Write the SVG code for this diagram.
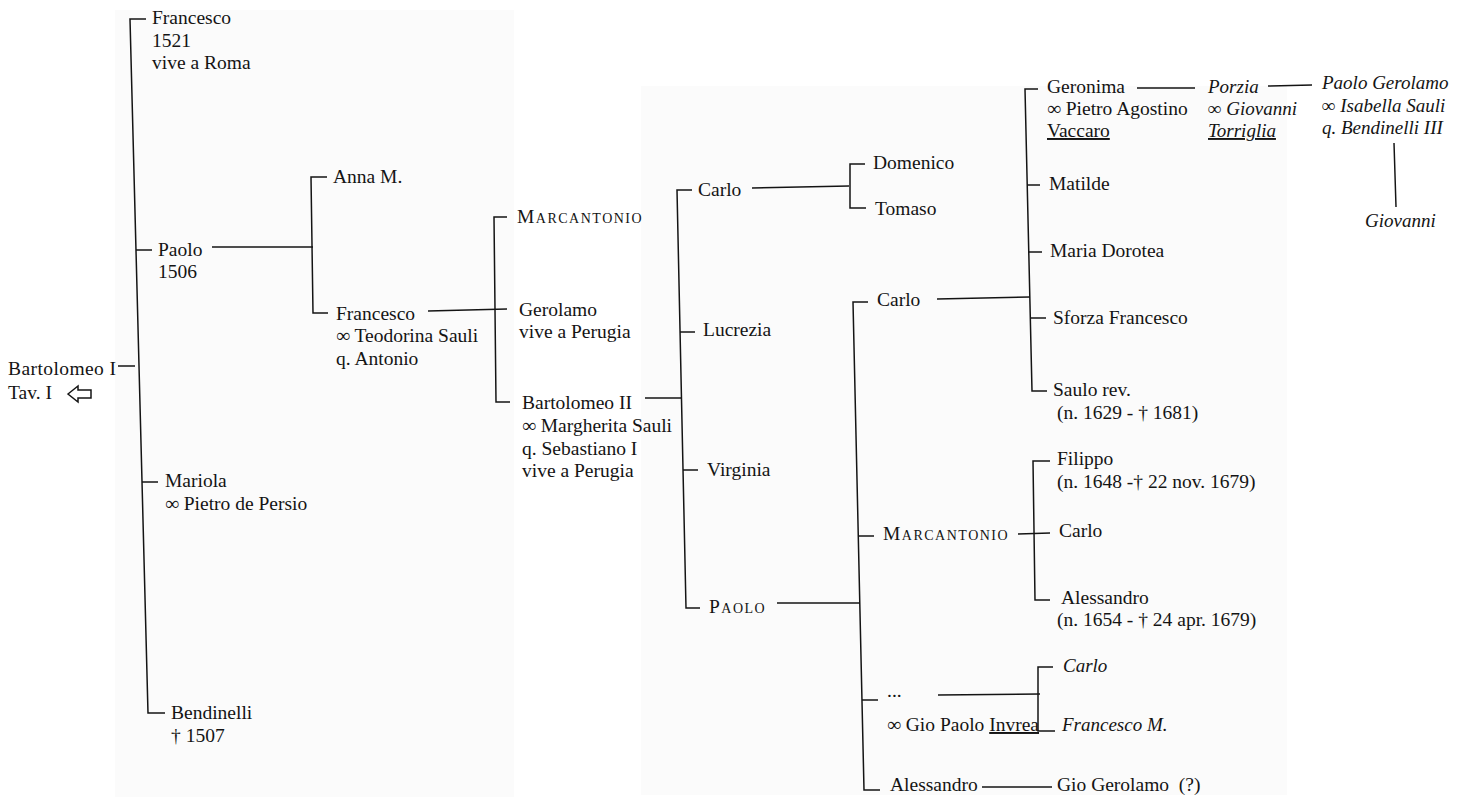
<svg xmlns="http://www.w3.org/2000/svg" width="1463" height="797" viewBox="0 0 1463 797">
<style>
text { font-family: "Liberation Serif", "Times New Roman", serif; font-size: 19.5px; fill: #141414; }
.i { font-style: italic; font-size: 19px; }
.sc { font-variant: small-caps; letter-spacing: 1.5px; }
.u { text-decoration: underline; }
#connectors path, #arrow { stroke: #141414; stroke-width: 1.5; fill: none; stroke-linejoin: miter; }
.panel { fill: #fbfbfb; }
</style>
<rect width="1463" height="797" fill="#ffffff"/>
<rect class="panel" x="115" y="10" width="399" height="787"/>
<rect class="panel" x="641" y="86" width="646" height="709"/>

<g id="connectors">
  <path d="M118,366 H135"/>
  <path d="M146,19 H130 L148,713 H165"/>
  <path d="M136,250 H152"/>
  <path d="M142,482 H158"/>
  <path d="M212,247 H313"/>
  <path d="M327,177 H311 L313,313 H328"/>
  <path d="M428,311 L507,309"/>
  <path d="M507,217 H494 L496,402 H510"/>
  <path d="M645,398 H682"/>
  <path d="M692,190 H677 L686,608 H700"/>
  <path d="M680,332 H695"/>
  <path d="M683,470 H698"/>
  <path d="M752,188 L849,186"/>
  <path d="M865,164 H850 V208 H866"/>
  <path d="M777,603 H860"/>
  <path d="M868,302 H853 L864,790 H880"/>
  <path d="M858,536 H874"/>
  <path d="M862,700 H878"/>
  <path d="M937,299 L1030,297"/>
  <path d="M1038,89 H1025 L1032,391 H1047"/>
  <path d="M1027,185 H1040"/>
  <path d="M1028,252 H1042"/>
  <path d="M1030,318 H1046"/>
  <path d="M1137,88 H1195"/>
  <path d="M1268,86 L1312,85"/>
  <path d="M1394,143 L1396,207"/>
  <path d="M1018,534 L1050,533"/>
  <path d="M1050,461 H1033 L1035,600 H1050"/>
  <path d="M938,695 L1040,694"/>
  <path d="M1053,667 H1038 V731 H1055"/>
  <path d="M982,787 H1052"/>
</g>

<g id="bartolomeo-i">
  <text x="8" y="375" textLength="108">Bartolomeo I</text>
  <text x="8" y="399">Tav. I</text>
  <path id="arrow" d="M68,394 L78,386 V390 H91 V398 H78 V402 Z"/>
</g>
<g id="francesco-1521">
  <text x="152" y="24">Francesco</text>
  <text x="152" y="47">1521</text>
  <text x="152" y="69">vive a Roma</text>
</g>
<g id="paolo-1506">
  <text x="158" y="256">Paolo</text>
  <text x="158" y="278">1506</text>
</g>
<g id="mariola">
  <text x="165" y="487">Mariola</text>
  <text x="165" y="510">∞ Pietro de Persio</text>
</g>
<g id="bendinelli">
  <text x="171" y="719">Bendinelli</text>
  <text x="171" y="742">† 1507</text>
</g>
<g id="anna-m">
  <text x="333" y="183">Anna M.</text>
</g>
<g id="francesco-teodorina">
  <text x="336" y="320">Francesco</text>
  <text x="336" y="342">∞ Teodorina Sauli</text>
  <text x="336" y="365">q. Antonio</text>
</g>
<g id="marcantonio-1">
  <text class="sc" x="517" y="223">Marcantonio</text>
</g>
<g id="gerolamo">
  <text x="519" y="316">Gerolamo</text>
  <text x="519" y="338">vive a Perugia</text>
</g>
<g id="bartolomeo-ii">
  <text x="522" y="409">Bartolomeo II</text>
  <text x="522" y="432">∞ Margherita Sauli</text>
  <text x="522" y="455">q. Sebastiano I</text>
  <text x="522" y="477">vive a Perugia</text>
</g>
<g id="carlo-1">
  <text x="698" y="196">Carlo</text>
</g>
<g id="lucrezia">
  <text x="703" y="336">Lucrezia</text>
</g>
<g id="virginia">
  <text x="707" y="476">Virginia</text>
</g>
<g id="paolo-2">
  <text class="sc" x="709" y="613">Paolo</text>
</g>
<g id="domenico">
  <text x="873" y="169">Domenico</text>
</g>
<g id="tomaso">
  <text x="875" y="215">Tomaso</text>
</g>
<g id="carlo-2">
  <text x="877" y="306">Carlo</text>
</g>
<g id="marcantonio-2">
  <text class="sc" x="883" y="540">Marcantonio</text>
</g>
<g id="invrea">
  <text x="887" y="697">...</text>
  <text x="887" y="731">∞ Gio Paolo <tspan class="u">Invrea</tspan></text>
</g>
<g id="alessandro-1">
  <text x="890" y="791">Alessandro</text>
</g>
<g id="gio-gerolamo">
  <text x="1057" y="791" xml:space="preserve">Gio Gerolamo  (?)</text>
</g>
<g id="geronima">
  <text x="1047" y="93">Geronima</text>
  <text x="1047" y="115">∞ Pietro Agostino</text>
  <text x="1047" y="137" class="u">Vaccaro</text>
</g>
<g id="matilde">
  <text x="1049" y="190">Matilde</text>
</g>
<g id="maria-dorotea">
  <text x="1050" y="257">Maria Dorotea</text>
</g>
<g id="sforza-francesco">
  <text x="1053" y="324">Sforza Francesco</text>
</g>
<g id="saulo">
  <text x="1053" y="396">Saulo rev.</text>
  <text x="1057" y="419">(n. 1629 - † 1681)</text>
</g>
<g id="porzia">
  <text class="i" x="1208" y="93">Porzia</text>
  <text class="i" x="1208" y="115">∞ Giovanni</text>
  <text class="i u" x="1208" y="137">Torriglia</text>
</g>
<g id="paolo-gerolamo">
  <text class="i" x="1322" y="89">Paolo Gerolamo</text>
  <text class="i" x="1322" y="112">∞ Isabella Sauli</text>
  <text class="i" x="1322" y="134">q. Bendinelli III</text>
</g>
<g id="giovanni">
  <text class="i" x="1365" y="227">Giovanni</text>
</g>
<g id="filippo">
  <text x="1057" y="465">Filippo</text>
  <text x="1057" y="488">(n. 1648 -† 22 nov. 1679)</text>
</g>
<g id="carlo-3">
  <text x="1059" y="537">Carlo</text>
</g>
<g id="alessandro-2">
  <text x="1061" y="604">Alessandro</text>
  <text x="1057" y="626">(n. 1654 - † 24 apr. 1679)</text>
</g>
<g id="carlo-4">
  <text class="i" x="1063" y="672">Carlo</text>
</g>
<g id="francesco-m">
  <text class="i" x="1062" y="731">Francesco M.</text>
</g>
</svg>
